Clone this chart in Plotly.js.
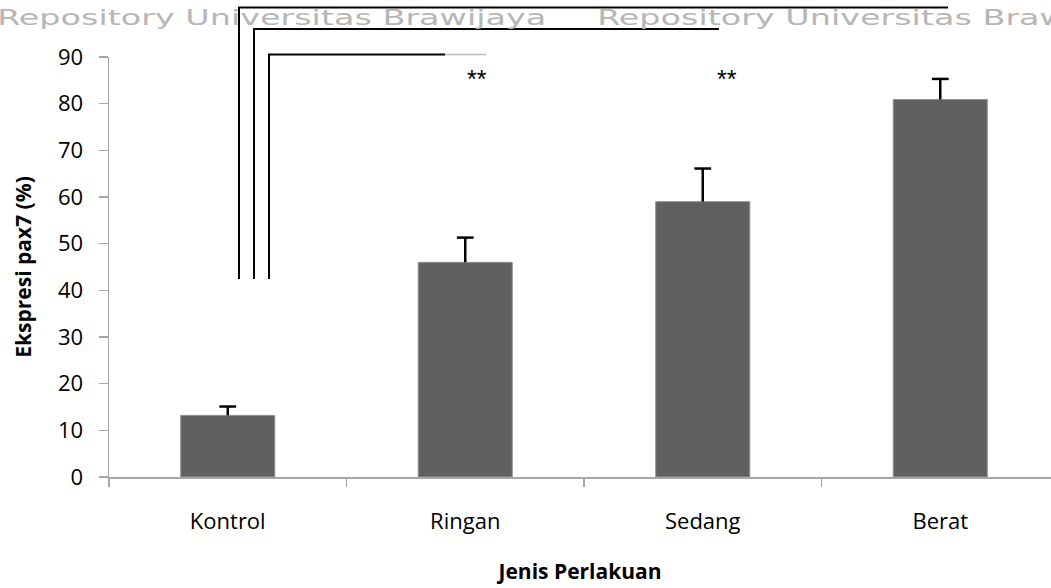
<!DOCTYPE html>
<html>
<head>
<meta charset="utf-8">
<script src="https://cdn.plot.ly/plotly-3.0.1.min.js"></script>
<style>
  html, body { margin: 0; padding: 0; background: #fff; }
  #chart { width: 1051px; height: 588px; }
</style>
</head>
<body>
<div id="chart"></div>
<script>
// ---- data ----
const categories = ["Kontrol", "Ringan", "Sedang", "Berat"];
const values = [13.2, 46.0, 59.0, 80.9];
const errorsPlus = [1.9, 5.3, 7.1, 4.4];
const yTickValues = [0, 10, 20, 30, 40, 50, 60, 70, 80, 90];
const significanceMarks = ["**", "**"];
const watermarkText = "Repository Universitas Brawijaya";
const xTitle = "Jenis Perlakuan";
const yTitle = "Ekspresi pax7 (%)";

// ---- layout helpers (plot area 109..1051 x, 57..477 y) ----
const L = 109, R = 1051, T = 57, B = 477;
const px = v => (v - L) / (R - L);
const py = v => (B - v) / (B - T);

const barTrace = {
  type: "bar",
  x: categories,
  y: values,
  width: 0.396,
  marker: { color: "#606060", line: { color: "#909090", width: 1 } },
  error_y: {
    type: "data", symmetric: false, array: errorsPlus,
    arrayminus: errorsPlus.map(() => 0),
    color: "#000", thickness: 2.5, width: 0
  },
  hoverinfo: "none"
};
// caps only on the upper end of each error bar
const capTrace = {
  type: "scatter", mode: "markers",
  x: categories,
  y: values.map((v, i) => v + errorsPlus[i]),
  marker: { symbol: "line-ew", size: 12, color: "#000", line: { color: "#000", width: 2.5 } },
  hoverinfo: "none", cliponaxis: false
};

const lineStyle = { color: "#000", width: 2 };
function bracket(xv, ytop, xend, ybottom) {
  return {
    type: "path", xref: "paper", yref: "paper",
    path: `M ${px(xv)} ${py(ybottom)} L ${px(xv)} ${py(ytop)} L ${px(xend)} ${py(ytop)}`,
    line: lineStyle
  };
}
const shapes = [
  bracket(239, 7.5, 948, 279),
  bracket(254, 29, 719, 279),
  bracket(269, 54.5, 445, 279),
  { type: "line", xref: "paper", yref: "paper", x0: px(445), x1: px(486), y0: py(54.5), y1: py(54.5),
    line: { color: "#bdbdbd", width: 1.5 } }
];

const WM_WIDTH = 549;
const wmFont = { family: "DejaVu Sans", size: 21, color: "#b6b6b6" };
function wm(startX, centerY) {
  return { text: watermarkText, xref: "paper", yref: "paper", x: px(startX + WM_WIDTH / 2), y: py(centerY),
    xanchor: "center", yanchor: "middle", showarrow: false, font: wmFont };
}
const annotations = [
  wm(-3, 18), wm(597, 18), wm(-20, -13), wm(580, -13),
  { text: significanceMarks[0], xref: "x", yref: "paper", x: categories[1], xshift: 12, y: py(79), yanchor: "middle", showarrow: false,
    font: { family: "Liberation Sans", size: 25, color: "#000" } },
  { text: significanceMarks[1], xref: "x", yref: "paper", x: categories[2], xshift: 24, y: py(79), yanchor: "middle", showarrow: false,
    font: { family: "Liberation Sans", size: 25, color: "#000" } }
];

const layout = {
  width: 1051, height: 588,
  margin: { l: L, r: 1051 - R, t: T, b: 588 - B, pad: 0 },
  paper_bgcolor: "#fff", plot_bgcolor: "#fff",
  font: { family: "Open Sans", size: 22, color: "#000" },
  showlegend: false,
  bargap: 0.6,
  xaxis: {
    type: "category",
    range: [-0.5, -0.5 + (R - L) / 237.5],
    showline: true, linecolor: "#a6a6a6", linewidth: 1.5,
    ticks: "outside", tickson: "boundaries", ticklen: 8, tickcolor: "#a6a6a6", tickwidth: 1.5,
    ticklabelstandoff: 24,
    showgrid: false, zeroline: false,
    tickfont: { family: "Open Sans", size: 22, color: "#000" },
    title: { text: xTitle, standoff: 30, font: { family: "Open Sans", size: 21, weight: "bold", color: "#000" } },
    automargin: false, fixedrange: true
  },
  yaxis: {
    range: [0, 90],
    tickvals: yTickValues,
    showline: true, linecolor: "#a6a6a6", linewidth: 1.5,
    ticks: "outside", ticklen: 9, tickcolor: "#a6a6a6", tickwidth: 1.5,
    ticklabelstandoff: 11,
    showgrid: false, zeroline: false,
    tickfont: { family: "Open Sans", size: 22, color: "#000" },
    title: { text: yTitle, standoff: 20, font: { family: "Open Sans", size: 21, weight: "bold", color: "#000" } },
    automargin: false, fixedrange: true
  },
  shapes: shapes,
  annotations: annotations
};

Plotly.newPlot("chart", [barTrace, capTrace], layout, { staticPlot: true, displayModeBar: false }).then(gd => {
  // stretch the watermark text to its measured width
  [0, 1, 2, 3].forEach(i => {
    const t = gd.querySelector(`.annotation[data-index="${i}"] text.annotation-text`);
    if (t) {
      t.setAttribute("textLength", WM_WIDTH);
      t.setAttribute("lengthAdjust", "spacingAndGlyphs");
    }
  });
});
</script>
</body>
</html>
